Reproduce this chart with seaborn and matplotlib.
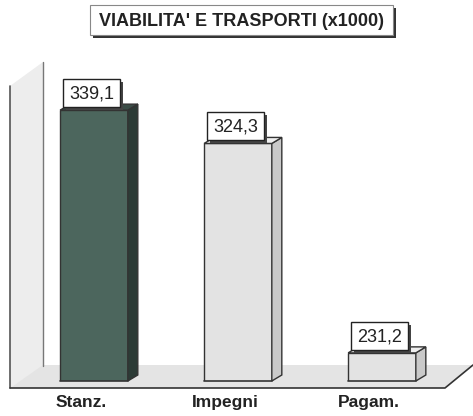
import matplotlib
matplotlib.use("Agg")
import matplotlib.pyplot as plt
import seaborn as sns
from matplotlib.patches import Polygon, Rectangle

categories = ["Stanz.", "Impegni", "Pagam."]
values = [339.1, 324.3, 231.2]
value_labels = ["339,1", "324,3", "231,2"]
title = "VIABILITA' E TRASPORTI (x1000)"

front_colors = ["#4c665d", "#e3e3e3", "#e3e3e3"]
side_colors = ["#2c3b36", "#c9c9c9", "#c9c9c9"]
top_colors = ["#3b4d47", "#efefef", "#efefef"]

W, H = 473, 416
sns.set_theme(style="white")
plt.rcParams['font.family'] = ['Liberation Sans', 'DejaVu Sans']

fig = plt.figure(figsize=(W / 100, H / 100), dpi=100)
fig.patch.set_facecolor('white')

bg = fig.add_axes([0, 0, 1, 1], zorder=0)
bg.set_xlim(0, W); bg.set_ylim(H, 0); bg.axis('off')

ax = fig.add_axes([10 / W, (H - 381) / H, 435 / W, 319 / H], zorder=1)
ax.patch.set_alpha(0)

fg = fig.add_axes([0, 0, 1, 1], zorder=2)
fg.set_xlim(0, W); fg.set_ylim(H, 0); fg.axis('off')
fg.patch.set_alpha(0)

# back wall and floor
bg.add_patch(Polygon([(10, 86), (43, 62), (43, 366), (10, 388)], closed=True,
                     fc="#ededed", ec="none"))
bg.plot([10, 10], [86, 388], color="#555555", lw=1.2)
bg.plot([43, 43], [62, 366], color="#777777", lw=1)
bg.add_patch(Polygon([(10, 388), (445, 388), (473, 365), (43, 365)], closed=True,
                     fc="#e4e4e4", ec="none"))
bg.plot([10, 445, 473], [388, 388, 365], color="#333333", lw=1.2)

# bars
sns.barplot(x=categories, y=values, hue=categories, palette=front_colors,
            width=0.47, edgecolor="#333333", linewidth=1, legend=False,
            saturation=1, ax=ax)
ax.set_xlim(-0.583, 2.4375)
ax.set_ylim(218.7, 360.5)
for s in ax.spines.values():
    s.set_visible(False)
ax.set_yticks([])
ax.set_xlabel(""); ax.set_ylabel("")
ax.tick_params(axis='x', length=0, labelbottom=False)


def to_img(x, y):
    d = ax.transData.transform((x, y))
    return d[0], H - d[1]


dx, dy = 10, 6
ymin = ax.get_ylim()[0]
for i, p in enumerate(ax.patches):
    x0 = p.get_x(); w = p.get_width()
    yb = max(p.get_y(), ymin); yt = p.get_y() + p.get_height()
    left, top = to_img(x0, yt)
    right, bottom = to_img(x0 + w, yb)
    fg.add_patch(Polygon([(right, top), (right + dx, top - dy), (right + dx, bottom - dy),
                          (right, bottom)], closed=True, fc=side_colors[i], ec="#333333", lw=1))
    fg.add_patch(Polygon([(left, top), (left + dx, top - dy), (right + dx, top - dy),
                          (right, top)], closed=True, fc=top_colors[i], ec="#333333", lw=1))
    fg.plot([left, right], [bottom, bottom], color="#333333", lw=1.2)
    bx, bw, bh = left + 3, 57, 28
    by = top - 3 - bh
    fg.add_patch(Rectangle((bx + 3, by + 3), bw, bh, fc="#444444", ec="none"))
    fg.add_patch(Rectangle((bx, by), bw, bh, fc="white", ec="#222222", lw=1))
    fg.text(bx + bw / 2, by + bh / 2 + 1, value_labels[i], ha='center', va='center',
            fontsize=13, color='#222222')
    # category label, shifted for the perspective of the floor
    fg.text((left + right) / 2 - 13, bottom + 22, categories[i], ha='center', va='center',
            fontsize=12.5, fontweight='bold', color='#222222')

# title box
tx, ty, tw, th = 90, 5, 303, 30
fg.add_patch(Rectangle((tx + 3, ty + 3), tw, th, fc="#333333", ec="none"))
fg.add_patch(Rectangle((tx, ty), tw, th, fc="white", ec="#888888", lw=0.8))
fg.text(tx + tw / 2, ty + th / 2 + 1, title, ha='center', va='center',
        fontsize=13, fontweight='bold', color='#222222')

fig.savefig("out.png", dpi=100)
